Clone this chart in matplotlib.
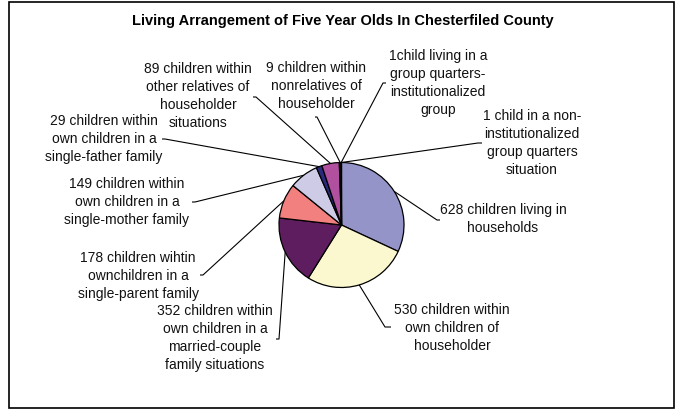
import numpy as np
import matplotlib
matplotlib.use("Agg")
import matplotlib.pyplot as plt
from matplotlib.patches import Rectangle

plt.rcParams["font.family"] = ["Liberation Sans", "DejaVu Sans"]

# Living arrangements of five-year-olds, Chesterfield County
counts = [628, 530, 352, 178, 149, 29, 89, 9, 1, 1]
labels = [
    "628 children living in\nhouseholds",
    "530 children within\nown children of\nhouseholder",
    "352 children within\nown children in a\nmarried-couple\nfamily situations",
    "178 children wihtin\nownchildren in a\nsingle-parent family",
    "149 children within\nown children in a\nsingle-mother family",
    "29 children within\nown children in a\nsingle-father family",
    "89 children within\nother relatives of\nhouseholder\nsituations",
    "9 children within\nnonrelatives of\nhouseholder",
    "1child living in a\ngroup quarters-\ninstitutionalized\ngroup",
    "1 child in a non-\ninstitutionalized\ngroup quarters\nsituation",
]
colors = ["#9494C8", "#FBF8D0", "#5E1D5E", "#F2807E", "#CDCBE6",
          "#2A2A7C", "#B0509F", "#9A8A30", "#CCFFFF", "#FF99CC"]
title = "Living Arrangement of Five Year Olds In Chesterfiled County"

W, H = 678, 409
fig = plt.figure(figsize=(W / 100, H / 100), dpi=100)
ax = fig.add_axes([0, 0, 1, 1])


def py(y):
    # convert a top-down pixel row to the upward data axis
    return H - y


# pie geometry (pixel units)
cx, cy, r = 341.5, py(225), 62.5

wedges, _ = ax.pie(counts, colors=colors, startangle=90, counterclock=False,
                   center=(cx, cy), radius=r,
                   wedgeprops=dict(edgecolor="black", linewidth=0.9))
ax.set_xlim(0, W)
ax.set_ylim(0, H)
ax.set_aspect("auto")
ax.axis("off")

# label block centres and the point where each leader meets its label
label_pos = [(503, 219), (452, 328), (215, 338), (138, 276), (127, 202),
             (104, 139), (198, 96), (316, 86), (438, 83), (532, 143)]
leader_end = [(437, 220), (385, 327), (279, 339), (203, 275), (195, 202),
              (165, 139), (256, 97), (317, 117), (383, 83), (478, 143)]
tick_dx = [3, 6, -3, -3, -3, -3, -3, -2, 3, 4]

for w, lab, (lx, ly), (ex, ey), dx in zip(wedges, labels, label_pos,
                                          leader_end, tick_dx):
    mid = np.deg2rad((w.theta1 + w.theta2) / 2)
    sx, sy = cx + r * np.cos(mid), cy + r * np.sin(mid)
    ax.plot([sx, ex, ex + dx], [sy, py(ey), py(ey)], color="black",
            lw=0.8, solid_capstyle="butt")
    ax.text(lx, py(ly), lab, ha="center", va="center", multialignment="center",
            fontsize=10, linespacing=1.36, color="#111111")

ax.text(342.5, py(21.5), title, ha="center", va="center", fontsize=10.5,
        fontweight="bold", color="black")

ax.add_patch(Rectangle((9, py(408)), 665, 406, fill=False, edgecolor="black",
                       lw=1.2, clip_on=False))

fig.savefig("out.png", dpi=100, facecolor="white")
